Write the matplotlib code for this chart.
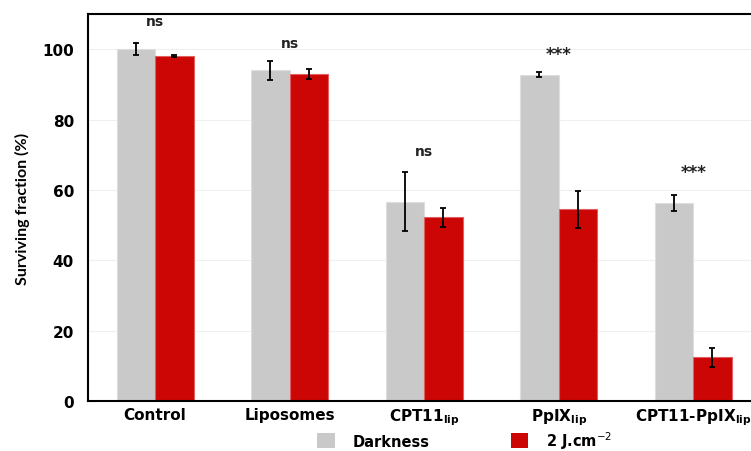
import numpy as np
import matplotlib
matplotlib.use("Agg")
import matplotlib.pyplot as plt
from matplotlib.patches import Patch

# data
groups = ["Control", "Liposomes", r"CPT11$_{\mathbf{lip}}$", r"PpIX$_{\mathbf{lip}}$",
          r"CPT11-PpIX$_{\mathbf{lip}}$"]
dark_vals = [100.2, 94.0, 56.7, 92.8, 56.3]
dark_err = [1.7, 2.6, 8.5, 0.6, 2.3]
light_vals = [98.1, 92.9, 52.2, 54.5, 12.4]
light_err = [0.4, 1.4, 2.6, 5.3, 2.7]
signif = ["ns", "ns", "ns", "***", "***"]
signif_y = [108, 101.7, 71, 98.6, 65]

plt.rcParams["font.family"] = ["DejaVu Sans"]

fig = plt.figure(figsize=(7.51, 4.52), dpi=100)
ax = fig.add_axes([0.117, 0.1106, 0.883, 0.856])

x = np.arange(len(groups))
w = 0.286
ax.bar(x - w / 2, dark_vals, w, color="#c9c9c9", edgecolor="#dedede", linewidth=0.8,
       yerr=dark_err, error_kw=dict(ecolor="black", elinewidth=1.3, capsize=2.5, capthick=1.3),
       zorder=2)
ax.bar(x + w / 2, light_vals, w, color="#cc0605", edgecolor="#e06060", linewidth=0.8,
       yerr=light_err, error_kw=dict(ecolor="black", elinewidth=1.3, capsize=2.5, capthick=1.3),
       zorder=2)

# significance labels
for i, (s, yy) in enumerate(zip(signif, signif_y)):
    fs = 12 if s == "***" else 10
    ax.text(i, yy, s, ha="center", va="center", fontsize=fs, fontweight="bold", color="#222222")

ax.set_xlim(-0.5, 4.43)
ax.set_ylim(0, 110)
ax.set_yticks([0, 20, 40, 60, 80, 100])
ax.set_xticks(x)
ax.set_xticklabels(groups, fontsize=11, fontweight="bold")
for lbl in ax.get_yticklabels():
    lbl.set_fontsize(11)
    lbl.set_fontweight("bold")
ax.tick_params(axis="both", length=0)
ax.tick_params(axis="x", pad=4)
ax.tick_params(axis="y", pad=10)
ax.grid(axis="y", color="#f0f0f0", linewidth=0.8, zorder=0)
ax.set_axisbelow(True)

ax.spines["right"].set_visible(False)
for sp in ["left", "top", "bottom"]:
    ax.spines[sp].set_linewidth(1.5)
    ax.spines[sp].set_color("black")

ax.set_ylabel("Surviving fraction (%)", fontsize=11.5, fontweight="bold",
              family="Lato", labelpad=9)

handles = [Patch(facecolor="#c9c9c9"), Patch(facecolor="#cc0605")]
fig.legend(handles, ["Darkness", "2 J.cm$^{-2}$"], loc="lower left",
           bbox_to_anchor=(0.405, -0.028), ncol=2, frameon=False, handlelength=1.2,
           handleheight=1.2, handletextpad=1.2, columnspacing=5.6,
           prop=dict(weight="bold", size=10.5))

fig.savefig("out.png", dpi=100)
